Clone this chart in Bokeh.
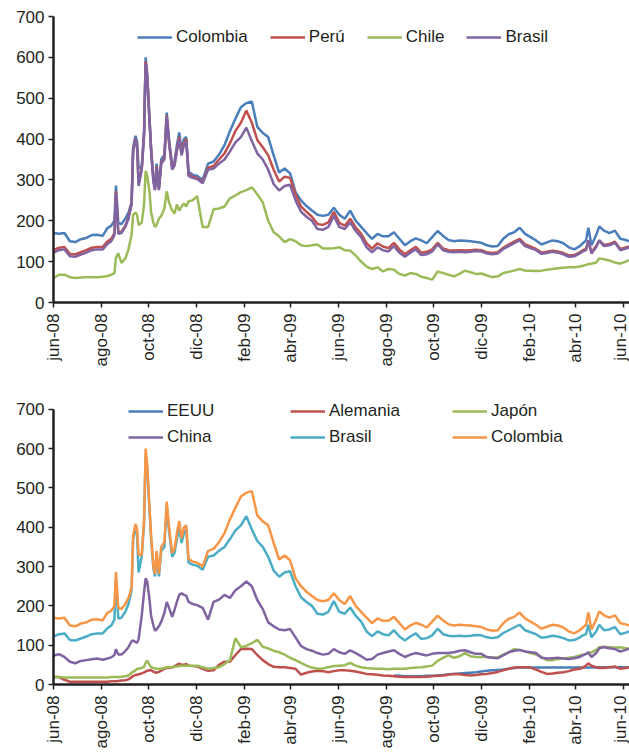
import numpy as np
import pandas as pd
from bokeh.plotting import figure
from bokeh.layouts import column
from bokeh.models import Range1d, FixedTicker, Legend, LegendItem, ColumnDataSource
from bokeh.embed import file_html
from bokeh.resources import INLINE

# ---------------- data ----------------
dates = [
    "2008-06-01", "2008-06-08", "2008-06-15", "2008-06-22", "2008-06-29", "2008-07-06", "2008-07-13", "2008-07-20", "2008-07-27", "2008-08-03",
    "2008-08-09", "2008-08-14", "2008-08-18", "2008-08-20", "2008-08-23", "2008-08-27", "2008-09-01", "2008-09-05", "2008-09-09", "2008-09-11",
    "2008-09-14", "2008-09-16", "2008-09-18", "2008-09-22", "2008-09-25", "2008-09-27", "2008-09-29", "2008-10-02", "2008-10-04", "2008-10-07",
    "2008-10-09", "2008-10-11", "2008-10-14", "2008-10-17", "2008-10-21", "2008-10-24", "2008-10-27", "2008-10-31", "2008-11-03", "2008-11-06",
    "2008-11-09", "2008-11-12", "2008-11-15", "2008-11-18", "2008-11-21", "2008-11-26", "2008-12-02", "2008-12-09", "2008-12-16", "2008-12-23",
    "2008-12-30", "2009-01-06", "2009-01-13", "2009-01-20", "2009-01-27", "2009-02-03", "2009-02-10", "2009-02-17", "2009-02-24", "2009-03-03",
    "2009-03-10", "2009-03-17", "2009-03-24", "2009-03-31", "2009-04-07", "2009-04-14", "2009-04-21", "2009-04-28", "2009-05-05", "2009-05-12",
    "2009-05-19", "2009-05-26", "2009-06-02", "2009-06-09", "2009-06-16", "2009-06-23", "2009-06-30", "2009-07-07", "2009-07-14", "2009-07-21",
    "2009-07-28", "2009-08-04", "2009-08-11", "2009-08-18", "2009-08-25", "2009-09-01", "2009-09-08", "2009-09-15", "2009-09-22", "2009-09-29",
    "2009-10-06", "2009-10-13", "2009-10-20", "2009-10-27", "2009-11-03", "2009-11-10", "2009-11-17", "2009-11-24", "2009-12-01", "2009-12-08",
    "2009-12-15", "2009-12-22", "2009-12-29", "2010-01-05", "2010-01-12", "2010-01-19", "2010-01-26", "2010-02-02", "2010-02-09", "2010-02-16",
    "2010-02-23", "2010-03-02", "2010-03-09", "2010-03-16", "2010-03-23", "2010-03-30", "2010-04-06", "2010-04-10", "2010-04-14", "2010-04-17",
    "2010-04-21", "2010-04-27", "2010-05-01", "2010-05-07", "2010-05-14", "2010-05-21", "2010-05-28", "2010-06-04", "2010-06-08",
]

colombia = [
    170, 168, 170, 150, 148, 155, 158, 165, 166, 163,
    182, 188, 200, 286, 195, 192, 205, 220, 245, 380,
    408, 395, 330, 330, 420, 600, 560, 450, 380, 300,
    282, 340, 282, 350, 362, 465, 400, 335, 345, 385,
    416, 372, 400, 405, 320, 313, 310, 300, 340, 345,
    362, 385, 420, 450, 478, 488, 492, 430, 415, 405,
    360, 318, 328, 316, 270, 250, 236, 225, 215, 212,
    215, 232, 215, 205, 225, 200, 185, 170, 156, 168,
    162, 162, 172, 156, 140, 150, 157, 152, 145, 160,
    175, 163, 153, 150, 152, 151, 150, 148, 146, 140,
    137, 138, 156, 167, 172, 183, 168, 160, 152, 142,
    147, 152, 150, 145, 135, 130, 138, 145, 152, 183,
    140, 165, 186, 176, 170, 176, 156, 153, 150,
]

peru = [
    128, 134, 136, 119, 118, 123, 128, 134, 136, 136,
    149, 156, 170, 272, 171, 173, 188, 208, 243, 375,
    402, 385, 290, 328, 412, 590, 555, 445, 375, 298,
    278, 333, 278, 343, 353, 458, 393, 328, 338, 374,
    405, 364, 390, 400, 313, 308, 305, 295, 330, 334,
    350, 365, 390, 420, 440, 470, 440, 398, 380, 360,
    325, 296, 308, 305, 265, 235, 222, 210, 192, 190,
    196, 222, 195, 188, 205, 184, 168, 145, 132, 145,
    137, 133, 146, 130, 118, 128, 136, 122, 124, 130,
    146, 132, 128, 127, 128, 127, 128, 129, 128, 123,
    121, 123, 134, 142, 149, 156, 142, 137, 131, 122,
    124, 127, 125, 121, 115, 116, 123, 128, 131, 150,
    123, 138, 152, 141, 143, 149, 131, 135, 137,
]

chile = [
    60, 68, 68, 62, 60, 61, 62, 62, 62, 63,
    65, 68, 72, 110, 120, 97, 108, 130, 165, 215,
    220, 215, 190, 195, 240, 322, 310, 270, 220, 195,
    185, 190, 205, 212, 230, 272, 245, 225, 218, 240,
    225, 235, 242, 235, 248, 250, 260, 185, 185, 228,
    230, 235, 255, 262, 270, 275, 282, 265, 245, 200,
    172, 162, 148, 155, 150, 140, 138, 140, 142, 132,
    132, 133, 135, 128, 127, 115, 100, 88, 82, 86,
    76, 82, 80, 70, 66, 72, 70, 63, 60, 56,
    76, 72, 68, 64, 70, 78, 74, 70, 71, 66,
    62, 64, 72, 75, 78, 82, 78, 78, 77, 78,
    80, 82, 84, 85, 86, 86, 88, 90, 92, 94,
    95, 98, 108, 106, 103, 98, 95, 100, 104,
]

brasil = [
    122, 128, 130, 113, 112, 117, 122, 128, 130, 130,
    143, 150, 165, 268, 168, 170, 185, 205, 240, 370,
    400, 380, 285, 326, 410, 585, 550, 440, 370, 295,
    275, 330, 275, 340, 350, 455, 390, 325, 335, 370,
    400, 360, 385, 395, 310, 305, 302, 292, 325, 328,
    340, 350, 370, 392, 405, 428, 395, 365, 350, 325,
    290, 274, 285, 288, 250, 222, 210, 200, 180, 178,
    185, 212, 185, 180, 196, 175, 160, 135, 123, 135,
    128, 125, 138, 122, 112, 122, 130, 116, 118, 125,
    142, 128, 124, 123, 124, 123, 124, 126, 125, 120,
    118, 120, 131, 138, 145, 152, 138, 133, 128, 119,
    121, 124, 122, 118, 112, 113, 120, 125, 128, 152,
    120, 135, 152, 138, 140, 146, 128, 132, 135,
]

china = [
    74, 77, 70, 58, 54, 60, 62, 64, 66, 63,
    66, 69, 75, 90, 76, 76, 85, 95, 110, 112,
    108, 106, 115, 175, 235, 270, 262, 215, 175, 150,
    137, 140, 148, 160, 182, 210, 195, 172, 190, 210,
    228, 232, 228, 226, 210, 205, 202, 195, 165, 210,
    216, 228, 220, 240, 250, 262, 250, 215, 192, 158,
    148, 140, 138, 141, 120, 98, 90, 86, 80, 76,
    78, 90, 82, 78, 87, 80, 72, 63, 65, 76,
    80, 84, 87, 78, 70, 76, 80, 77, 74, 78,
    80, 80, 80, 82, 86, 87, 82, 78, 78, 70,
    68, 67, 74, 82, 86, 88, 84, 82, 80, 68,
    66, 67, 68, 66, 65, 67, 70, 74, 78, 82,
    70, 80, 92, 95, 92, 90, 84, 88, 91,
]

japon = [
    19, 19, 18, 18, 18, 18, 18, 18, 18, 18,
    18, 19, 19, 19, 19, 20, 21, 23, 30, 32,
    36, 40, 40, 42, 45, 55, 61, 50, 44, 42,
    41, 40, 40, 40, 42, 44, 44, 44, 45, 46,
    47, 48, 48, 48, 48, 48, 48, 44, 40, 42,
    44, 52, 62, 118, 95, 98, 105, 114, 96, 92,
    86, 82, 76, 68, 62, 55, 48, 43, 40, 41,
    44, 47, 48, 49, 55, 48, 44, 42, 41, 40,
    40, 39, 40, 40, 40, 42, 43, 44, 46, 48,
    60, 68, 74, 68, 72, 80, 72, 70, 70, 70,
    69, 69, 76, 82, 90, 88, 84, 80, 76, 70,
    62, 62, 65, 67, 68, 70, 74, 76, 78, 80,
    82, 88, 95, 96, 95, 94, 95, 92, 91,
]

alemania = [
    19, 19, 12, 7, 7, 7, 7, 7, 7, 7,
    7, 8, 8, 8, 9, 10, 11, 13, 18, 22,
    24, 25, 26, 28, 31, 33, 35, 36, 36, 33,
    31, 30, 32, 35, 40, 42, 42, 44, 46, 50,
    53, 50, 50, 52, 48, 47, 46, 40, 35, 36,
    50, 58, 58, 75, 90, 91, 90, 75, 62, 52,
    45, 44, 44, 42, 40, 25, 30, 33, 35, 34,
    31, 34, 36, 36, 35, 33, 30, 27, 26, 25,
    23, 22, 21, 20, 19, 19, 19, 19, 20, 21,
    22, 23, 25, 27, 26, 24, 23, 24, 26, 27,
    29, 32, 36, 40, 43, 44, 44, 43, 38, 32,
    27, 28, 30, 31, 34, 38, 40, 43, 48, 54,
    48, 44, 42, 42, 44, 46, 40, 42, 44,
]

# EEUU: no visible data before August 2009
eeuu = [None] * 82 + [
    23, 22, 21, 21, 21, 21, 22, 22,
    23, 24, 26, 27, 28, 29, 30, 31, 33, 35,
    36, 37, 38, 40, 42, 43, 43, 43, 43, 43,
    43, 43, 43, 43, 43, 43, 43, 43, 43, 43,
    43, 43, 44, 44, 44, 44, 44, 44, 44,
]

tick_dates = ["2008-06-01", "2008-08-01", "2008-10-01", "2008-12-01", "2009-02-01", "2009-04-01",
              "2009-06-01", "2009-08-01", "2009-10-01", "2009-12-01", "2010-02-01", "2010-04-01", "2010-06-01"]
tick_labels = ["jun-08", "ago-08", "oct-08", "dic-08", "feb-09", "abr-09",
               "jun-09", "ago-09", "oct-09", "dic-09", "feb-10", "abr-10", "jun-10"]
y_ticks = [0, 100, 200, 300, 400, 500, 600, 700]

# ---------------- styling ----------------
FONT = "Liberation Sans"
TXT = "#231f20"
X_START = pd.Timestamp("2008-06-01")
X_END = pd.Timestamp("2010-06-08 17:00")

x = pd.to_datetime(dates)
tick_ms = [int(pd.Timestamp(d).timestamp() * 1000) for d in tick_dates]


def to_arr(v):
    return np.array([np.nan if a is None else a for a in v], dtype=float)


def make_fig(height, border_top, border_bottom, y_end):
    p = figure(width=629, height=height, x_axis_type="datetime",
               x_range=Range1d(X_START, X_END), y_range=Range1d(0, y_end),
               output_backend="svg", toolbar_location=None,
               min_border_left=53, min_border_right=0,
               min_border_top=border_top, min_border_bottom=border_bottom)
    p.outline_line_color = None
    p.xgrid.visible = False
    p.ygrid.visible = False
    p.xaxis.ticker = FixedTicker(ticks=tick_ms)
    p.xaxis.major_label_overrides = dict(zip(tick_ms, tick_labels))
    p.xaxis.major_label_orientation = np.pi / 2
    p.yaxis.ticker = FixedTicker(ticks=y_ticks)
    p.yaxis.bounds = (y_ticks[0], y_ticks[-1])
    for ax in (p.xaxis, p.yaxis):
        ax.axis_line_width = 2.5
        ax.axis_line_color = TXT
        ax.major_tick_line_width = 1.5
        ax.major_tick_line_color = TXT
        ax.major_tick_out = 5
        ax.major_tick_in = 0
        ax.minor_tick_out = 0
        ax.minor_tick_in = 0
        ax.major_label_text_font = FONT
        ax.major_label_text_font_size = "17px"
        ax.major_label_text_color = TXT
    p.xaxis.major_label_standoff = 6
    p.yaxis.major_label_standoff = 4
    return p


def make_legend(items, loc, label_width=20, spacing=22):
    lg = Legend(items=items, location=loc, orientation="horizontal",
                glyph_width=35, glyph_height=20, label_standoff=4,
                label_width=label_width, spacing=spacing, padding=0, margin=0,
                label_text_font=FONT, label_text_font_size="17px",
                label_text_color=TXT, background_fill_alpha=0,
                border_line_alpha=0)
    return lg


# ---------------- top chart ----------------
p1 = make_fig(380, 16, 78, 700)
top_series = [("Colombia", colombia, "#4a7ebb"), ("Perú", peru, "#c0504d"),
              ("Chile", chile, "#9bbb59"), ("Brasil", brasil, "#8064a2")]
items1 = []
for name, vals, col in top_series:
    src = ColumnDataSource(dict(x=x, y=to_arr(vals)))
    r = p1.line("x", "y", source=src, line_color=col, line_width=2.5)
    items1.append(LegendItem(label=name, renderers=[r]))
p1.add_layout(make_legend(items1, (84, 255)))

# ---------------- bottom chart ----------------
p2 = make_fig(373, 19, 69, 725)
bot_series = [("EEUU", eeuu, "#4a7ebb"), ("Alemania", alemania, "#c0504d"),
              ("Japón", japon, "#9bbb59"), ("China", china, "#8064a2"),
              ("Brasil", brasil, "#4bacc6"), ("Colombia", colombia, "#f79646")]
items2 = []
for name, vals, col in bot_series:
    src = ColumnDataSource(dict(x=x, y=to_arr(vals)))
    r = p2.line("x", "y", source=src, line_color=col, line_width=2.5)
    items2.append(LegendItem(label=name, renderers=[r]))
p2.add_layout(make_legend(items2[:3], (75, 263), label_width=103, spacing=20))
p2.add_layout(make_legend(items2[3:], (75, 237), label_width=103, spacing=20))

layout = column(p1, p2, spacing=0)
open("out.html", "w").write(file_html(layout, INLINE))
